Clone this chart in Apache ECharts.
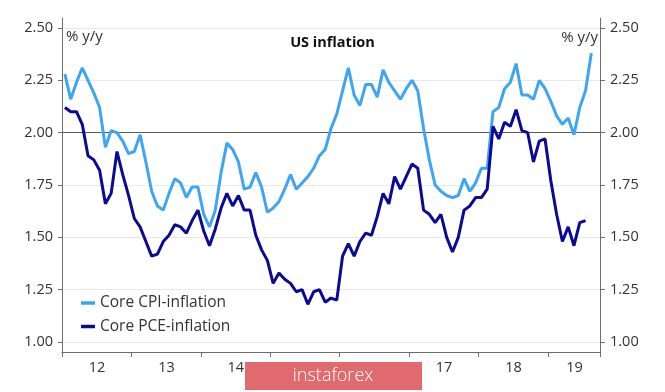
<!DOCTYPE html>
<html>
<head>
<meta charset="utf-8">
<script src="https://cdn.jsdelivr.net/npm/echarts@6/dist/echarts.min.js"></script>
<style>
html,body{margin:0;padding:0;background:#fff;}
#c{width:665px;height:392px;}
</style>
</head>
<body>
<div id="c"></div>
<script>
// ---- data (monthly, Jan 2012 .. Aug 2019) ----
const months = [];
for (let y = 2012; y <= 2019; y++) {
  for (let m = 1; m <= 12; m++) {
    if (y === 2019 && m > 8) break;
    months.push(y + '-' + String(m).padStart(2, '0'));
  }
}
const yearLabels = ['12', '13', '14', '15', '16', '17', '18', '19'];
const yTickLabels = ['1.00', '1.25', '1.50', '1.75', '2.00', '2.25', '2.50'];

const coreCPI = [
  2.28, 2.16, 2.24, 2.31, 2.25, 2.19, 2.12, 1.93, 2.01, 2.00, 1.96, 1.90,
  1.91, 1.99, 1.86, 1.72, 1.65, 1.63, 1.71, 1.78, 1.76, 1.69, 1.74, 1.74,
  1.61, 1.55, 1.63, 1.81, 1.95, 1.92, 1.86, 1.73, 1.74, 1.81, 1.74, 1.62,
  1.64, 1.67, 1.73, 1.80, 1.73, 1.76, 1.79, 1.83, 1.89, 1.92, 2.02, 2.09,
  2.20, 2.31, 2.18, 2.13, 2.23, 2.23, 2.17, 2.30, 2.24, 2.20, 2.16, 2.21,
  2.25, 2.20, 2.02, 1.87, 1.75, 1.72, 1.70, 1.69, 1.70, 1.78, 1.72, 1.76,
  1.83, 1.83, 2.10, 2.12, 2.21, 2.24, 2.33, 2.18, 2.18, 2.16, 2.25, 2.21,
  2.15, 2.08, 2.04, 2.07, 1.99, 2.12, 2.20, 2.38
];
const corePCE = [
  2.12, 2.10, 2.10, 2.04, 1.89, 1.87, 1.82, 1.66, 1.71, 1.91, 1.80, 1.70,
  1.59, 1.55, 1.48, 1.41, 1.42, 1.48, 1.51, 1.56, 1.55, 1.52, 1.58, 1.63,
  1.53, 1.46, 1.54, 1.64, 1.71, 1.65, 1.70, 1.63, 1.63, 1.51, 1.44, 1.39,
  1.28, 1.33, 1.30, 1.28, 1.24, 1.25, 1.18, 1.24, 1.25, 1.19, 1.21, 1.20,
  1.41, 1.47, 1.41, 1.48, 1.52, 1.51, 1.60, 1.71, 1.66, 1.79, 1.73, 1.79,
  1.85, 1.83, 1.63, 1.61, 1.57, 1.61, 1.50, 1.43, 1.50, 1.63, 1.65, 1.69,
  1.69, 1.73, 2.03, 1.97, 2.05, 2.03, 2.11, 2.01, 2.00, 1.86, 1.96, 1.97,
  1.77, 1.61, 1.48, 1.55, 1.46, 1.57, 1.58
];

// month index -> position on the axis (mid-month)
const toPoints = arr => arr.map((v, i) => [i + 0.5, v]);

const FONT = '"Open Sans", "Noto Sans", sans-serif';
const AXIS_GRAY = '#6e6e6e';
const LABEL = '#333333';
const X_MAX = 93;

const chart = echarts.init(document.getElementById('c'), null, { renderer: 'canvas' });
chart.setOption({
  animation: false,
  backgroundColor: '#ffffff',
  textStyle: { fontFamily: FONT },
  title: [
    { text: 'US inflation', left: 'center', top: 35, padding: 0,
      textStyle: { fontFamily: FONT, fontSize: 14.5, fontWeight: 'bold', color: '#111' } },
    { text: '% y/y', left: 66, top: 29, padding: 0,
      textStyle: { fontFamily: FONT, fontSize: 15, fontWeight: 'normal', color: LABEL } },
    { text: '% y/y', right: 67, top: 30, padding: 0,
      textStyle: { fontFamily: FONT, fontSize: 15, fontWeight: 'normal', color: LABEL } }
  ],
  legend: {
    orient: 'vertical', left: 81, top: 295, padding: 0,
    itemWidth: 14, itemHeight: 3.5, itemGap: 7.5, icon: 'rect',
    textStyle: { fontFamily: FONT, fontSize: 15.5, color: LABEL },
    data: ['Core CPI-inflation', 'Core PCE-inflation']
  },
  grid: [
    { left: 62, right: 65, top: 18, bottom: 40 },
    { left: 62, right: 65, top: 28, bottom: 50 }
  ],
  xAxis: [
    {
      type: 'value', gridIndex: 0, min: 0, max: X_MAX, interval: 12,
      axisLine: { show: true, onZero: false, lineStyle: { color: AXIS_GRAY, width: 1 } },
      axisTick: { show: true, inside: false, length: 5, lineStyle: { color: AXIS_GRAY } },
      splitLine: { show: false },
      axisLabel: {
        margin: 8, color: LABEL, fontSize: 14.5, fontFamily: FONT,
        showMinLabel: true, showMaxLabel: true,
        formatter: function (v) {
          if (Math.abs(v % 12) > 1e-6) return '';
          const k = Math.round(v / 12);
          const lbl = yearLabels[k];
          if (lbl === undefined) return '';
          return (k === yearLabels.length - 1 ? '{p|' : '{f|') + lbl + '}';
        },
        rich: {
          f: { padding: [0, 0, 0, 70], fontSize: 14.5, fontFamily: FONT, color: LABEL },
          p: { padding: [0, 0, 0, 53], fontSize: 14.5, fontFamily: FONT, color: LABEL }
        }
      }
    },
    { type: 'value', gridIndex: 1, min: 0, max: X_MAX, show: false }
  ],
  yAxis: [
    { type: 'value', gridIndex: 0, min: 0, max: 1, position: 'left',
      axisLine: { show: true, onZero: false, lineStyle: { color: AXIS_GRAY, width: 1 } },
      axisTick: { show: false }, axisLabel: { show: false }, splitLine: { show: false } },
    { type: 'value', gridIndex: 0, min: 0, max: 1, position: 'right',
      axisLine: { show: true, onZero: false, lineStyle: { color: AXIS_GRAY, width: 1 } },
      axisTick: { show: false }, axisLabel: { show: false }, splitLine: { show: false } },
    { type: 'value', gridIndex: 1, min: 1, max: 2.5, interval: 0.25, position: 'left',
      axisLine: { show: false, onZero: false },
      axisTick: { show: true, inside: false, length: 4, lineStyle: { color: AXIS_GRAY } },
      axisLabel: { margin: 9, color: LABEL, fontSize: 14.5, fontFamily: FONT,
        formatter: v => yTickLabels[Math.round((v - 1) / 0.25)] || '' },
      splitLine: { show: true, lineStyle: { width: 1,
        color: ['#e9e9e9', '#e9e9e9', '#e9e9e9', '#e9e9e9', '#5a5a5a', '#e9e9e9', '#e9e9e9'] } } },
    { type: 'value', gridIndex: 1, min: 1, max: 2.5, interval: 0.25, position: 'right',
      axisLine: { show: false, onZero: false },
      axisTick: { show: true, inside: false, length: 5, lineStyle: { color: AXIS_GRAY } },
      axisLabel: { margin: 10, color: LABEL, fontSize: 14.5, fontFamily: FONT,
        formatter: v => yTickLabels[Math.round((v - 1) / 0.25)] || '' },
      splitLine: { show: false } }
  ],
  series: [
    { name: 'Core CPI-inflation', type: 'line', xAxisIndex: 1, yAxisIndex: 2,
      data: toPoints(coreCPI), showSymbol: false, symbol: 'none',
      lineStyle: { color: '#3ea5f3', width: 3 }, itemStyle: { color: '#3ea5f3' } },
    { name: 'Core PCE-inflation', type: 'line', xAxisIndex: 1, yAxisIndex: 2,
      data: toPoints(corePCE), showSymbol: false, symbol: 'none',
      lineStyle: { color: '#0a0a96', width: 3 }, itemStyle: { color: '#0a0a96' } }
  ],
  graphic: [
    { type: 'rect', z: 100, shape: { x: 245, y: 362, width: 177, height: 28 },
      style: { fill: '#e06a6e' } },
    { type: 'text', z: 101, x: 333, y: 376,
      style: { text: 'instaforex', fill: '#ffffff', font: '300 18px ' + FONT,
        textAlign: 'center', textVerticalAlign: 'middle', align: 'center', verticalAlign: 'middle' } }
  ]
});
</script>
</body>
</html>
